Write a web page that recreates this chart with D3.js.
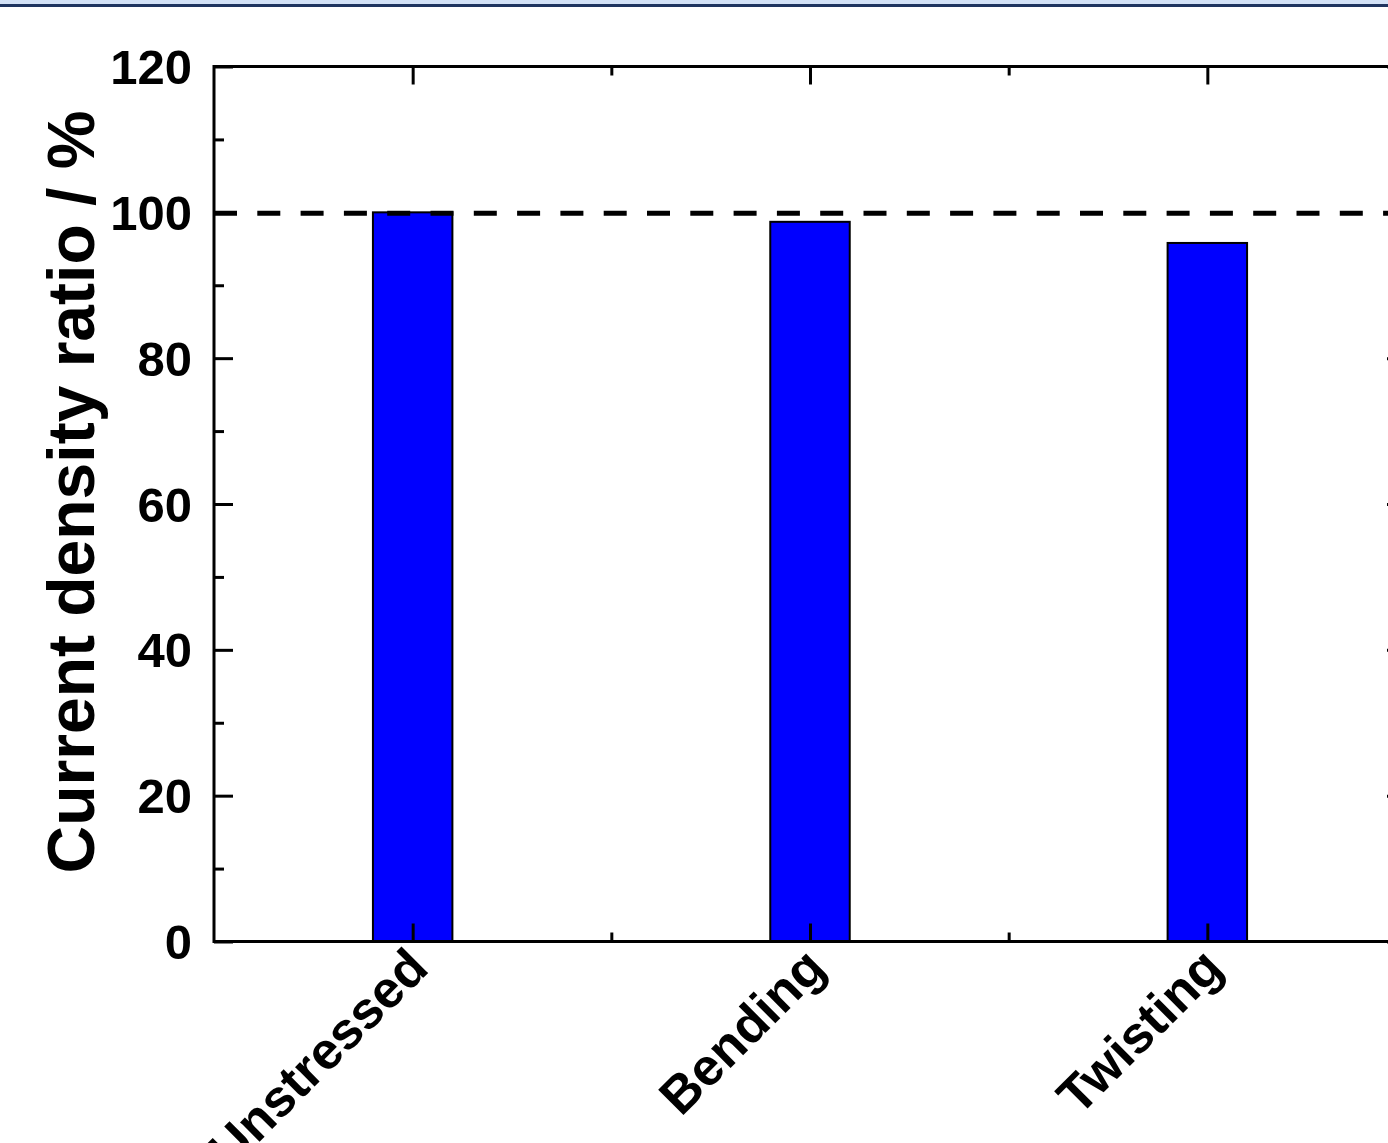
<!DOCTYPE html>
<html>
<head>
<meta charset="utf-8">
<script src="https://cdn.jsdelivr.net/npm/d3@7"></script>
<style>
  html, body { margin: 0; padding: 0; background: #fff; }
  svg { display: block; }
  text { font-family: "Liberation Sans", Arial, Helvetica, sans-serif; font-weight: bold; fill: #000; }
</style>
</head>
<body>
<div id="chart"></div>
<script>
// Current density ratio after mechanical stress tests
const categories = ["Unstressed", "Bending", "Twisting"];
const ratios = [100, 98.7, 95.8];
const yTicks = [0, 20, 40, 60, 80, 100, 120];
const yMinorTicks = [10, 30, 50, 70, 90, 110];
const referenceLevel = [100];
const yTitle = ["Current density ratio / %"];

const W = 1388, H = 1143;
const svg = d3.select("#chart").append("svg").attr("width", W).attr("height", H);

// header band
svg.append("rect").attr("x", 0).attr("y", 0).attr("width", W).attr("height", 4).attr("fill", "#d3e2f7");
svg.append("rect").attr("x", 0).attr("y", 4).attr("width", W).attr("height", 3).attr("fill", "#1f3560");

const plotL = 214, plotR = 1406, plotT = 66.5, plotB = 941.5;
const x = d3.scaleLinear().domain([0.5, categories.length + 0.5]).range([plotL, plotR]);
const y = d3.scaleLinear().domain([0, 120]).range([plotB, plotT]);
const barW = 0.2;

// bars
svg.append("g").selectAll("rect").data(ratios).join("rect")
  .attr("x", (d, i) => x(i + 1 - barW / 2))
  .attr("width", (d, i) => x(i + 1 + barW / 2) - x(i + 1 - barW / 2))
  .attr("y", d => y(d))
  .attr("height", d => y(0) - y(d))
  .attr("fill", "#0000ff")
  .attr("stroke", "#000")
  .attr("stroke-width", 2);

// reference line at 100 %
svg.append("g").selectAll("line").data(referenceLevel).join("line")
  .attr("x1", plotL).attr("x2", plotR)
  .attr("y1", d => y(d) + 1).attr("y2", d => y(d) + 1)
  .attr("stroke", "#000").attr("stroke-width", 5)
  .attr("stroke-dasharray", "23 20.3");

const axisStyle = g => {
  g.select(".domain").remove();
  g.selectAll(".tick line").attr("stroke", "#000").attr("stroke-width", 3);
};
const catTicks = categories.map((c, i) => i + 1);
const midTicks = categories.map((c, i) => i + 1.5);

// bottom axis: major ticks at categories, minor between
svg.append("g").attr("transform", `translate(0,${plotB})`)
  .call(d3.axisBottom(x).tickValues(catTicks).tickSize(-18).tickFormat(""))
  .call(axisStyle);
svg.append("g").attr("transform", `translate(0,${plotB})`)
  .call(d3.axisBottom(x).tickValues(midTicks).tickSize(-9).tickFormat(""))
  .call(axisStyle);
// top axis
svg.append("g").attr("transform", `translate(0,${plotT})`)
  .call(d3.axisTop(x).tickValues(catTicks).tickSize(-18).tickFormat(""))
  .call(axisStyle);
svg.append("g").attr("transform", `translate(0,${plotT})`)
  .call(d3.axisTop(x).tickValues(midTicks).tickSize(-9).tickFormat(""))
  .call(axisStyle);

// left axis
const leftAxis = svg.append("g").attr("transform", `translate(${plotL},0)`)
  .call(d3.axisLeft(y).tickValues(yTicks).tickSize(-19).tickPadding(0).tickFormat(d3.format("d")))
  .call(axisStyle);
leftAxis.selectAll(".tick text")
  .attr("x", -22).attr("dy", "0.35em")
  .style("font-size", "49px").attr("font-family", null).attr("fill", "#000");
svg.append("g").attr("transform", `translate(${plotL},0)`)
  .call(d3.axisLeft(y).tickValues(yMinorTicks).tickSize(-10).tickFormat(""))
  .call(axisStyle);
// right axis
svg.append("g").attr("transform", `translate(${plotR},0)`)
  .call(d3.axisRight(y).tickValues(yTicks).tickSize(-19).tickFormat(""))
  .call(axisStyle);
svg.append("g").attr("transform", `translate(${plotR},0)`)
  .call(d3.axisRight(y).tickValues(yMinorTicks).tickSize(-10).tickFormat(""))
  .call(axisStyle);

// frame
svg.append("rect")
  .attr("x", plotL).attr("y", plotT)
  .attr("width", plotR - plotL).attr("height", plotB - plotT)
  .attr("fill", "none").attr("stroke", "#000").attr("stroke-width", 3);

// category labels, rotated
svg.append("g").selectAll("text").data(categories).join("text")
  .attr("transform", (d, i) => `translate(${x(i + 1) + 18},${plotB + 29}) rotate(-45)`)
  .attr("text-anchor", "end")
  .style("font-size", "52px")
  .text(d => d);

// y-axis title
svg.append("g").selectAll("text").data(yTitle).join("text")
  .attr("transform", `translate(94,${(plotT + plotB) / 2 - 12}) rotate(-90)`)
  .attr("text-anchor", "middle")
  .style("font-size", "66px")
  .text(d => d);
</script>
</body>
</html>
